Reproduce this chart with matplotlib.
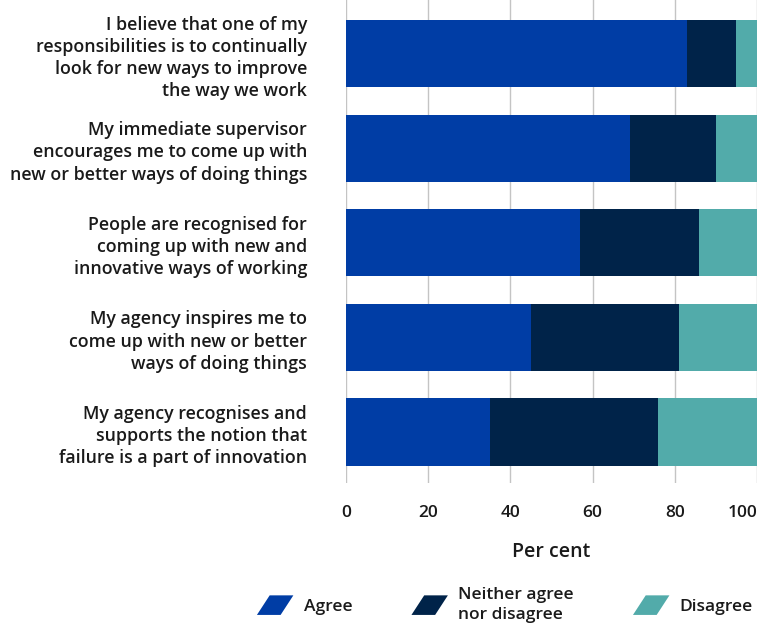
import matplotlib
matplotlib.use("Agg")
import matplotlib.pyplot as plt
from matplotlib.patches import Polygon
from matplotlib.legend_handler import HandlerPatch
import matplotlib.patches as mpatches

categories = [
    "I believe that one of my\nresponsibilities is to continually\nlook for new ways to improve\nthe way we work",
    "My immediate supervisor\nencourages me to come up with\nnew or better ways of doing things",
    "People are recognised for\ncoming up with new and\ninnovative ways of working",
    "My agency inspires me to\ncome up with new or better\nways of doing things",
    "My agency recognises and\nsupports the notion that\nfailure is a part of innovation",
]
agree = [83, 69, 57, 45, 35]
neither = [12, 21, 29, 36, 41]
disagree = [5, 10, 14, 19, 24]
series_names = ["Agree", "Neither agree\nnor disagree", "Disagree"]
colors = ["#003DA5", "#002349", "#52ABAA"]
xticks = [0, 20, 40, 60, 80, 100]

FONT = ['Open Sans', 'DejaVu Sans']
plt.rcParams['font.family'] = FONT
TXT = '#1a1a1a'

fig = plt.figure(figsize=(7.68, 6.3), dpi=100)
ax = fig.add_axes([346/768, 1-483/630, (757-346)/768, 483/630])

ypos = list(range(len(categories)))
left = [0]*len(categories)
for vals, col, name in zip([agree, neither, disagree], colors, series_names):
    ax.barh(ypos, vals, left=left, height=0.71, color=col, label=name, zorder=3)
    left = [l + v for l, v in zip(left, vals)]

ax.set_ylim(4.54, -0.57)
ax.set_xlim(0, 100)
ax.set_xticks(xticks)
ax.set_xticklabels([str(t) for t in xticks], fontsize=12.5, fontweight='semibold', color=TXT)
ax.get_xticklabels()[-1].set_horizontalalignment('right')
ax.set_yticks(ypos)
ax.set_yticklabels(categories, fontsize=12.8, fontweight='semibold', color=TXT, linespacing=1.3)
ax.tick_params(axis='y', length=0, pad=28)
ax.tick_params(axis='x', length=0, pad=16)
ax.grid(axis='x', color='#c4c4c4', linewidth=1, zorder=0)
for s in ax.spines.values():
    s.set_visible(False)
ax.set_xlabel("Per cent", fontsize=14, fontweight='semibold', color=TXT, labelpad=15)


class ParallelogramHandler(HandlerPatch):
    def create_artists(self, legend, orig_handle, xdescent, ydescent, width, height, fontsize, trans):
        w, h = width, height * 1.1
        x0 = -xdescent
        y0 = -ydescent - (h - height) / 2
        sk = w * 0.35
        p = Polygon([[x0, y0], [x0 + w - sk, y0], [x0 + w, y0 + h], [x0 + sk, y0 + h]],
                    closed=True, facecolor=orig_handle.get_facecolor(), edgecolor='none',
                    transform=trans)
        return [p]

proxies = [mpatches.Patch(facecolor=c) for c in colors]
leg = fig.legend(proxies, series_names, loc='center', bbox_to_anchor=(505/768, 1-605/630),
                 ncol=3, frameon=False, handler_map={mpatches.Patch: ParallelogramHandler()},
                 handlelength=2.1, handleheight=1.2, columnspacing=3.4, handletextpad=0.6,
                 prop={'family': FONT, 'weight': 'semibold', 'size': 12.5})
for t in leg.get_texts():
    t.set_color(TXT)
    t.set_linespacing(1.3)

fig.savefig("out.png", dpi=100)
